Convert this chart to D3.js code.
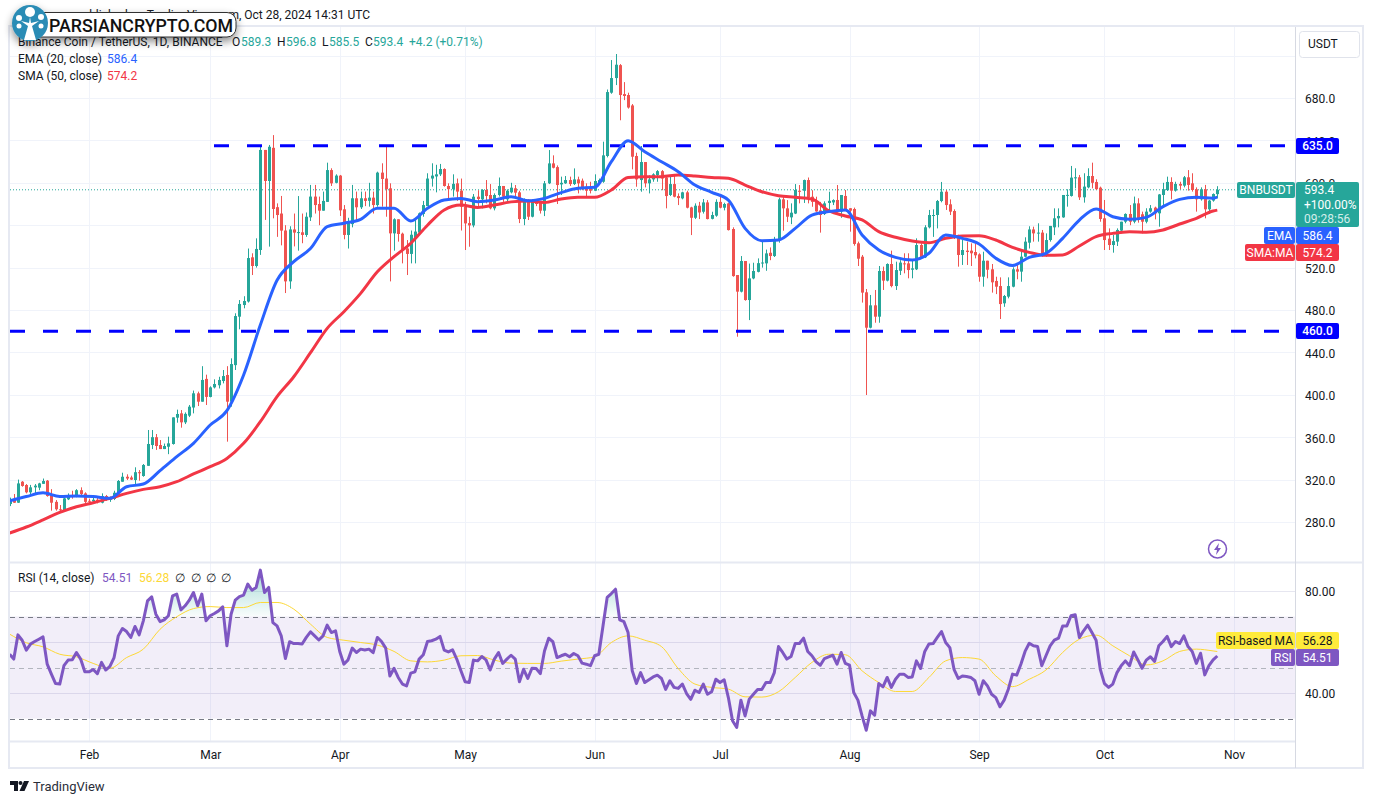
<!DOCTYPE html>
<html>
<head>
<meta charset="utf-8">
<title>BNBUSDT</title>
<script src="https://cdn.jsdelivr.net/npm/d3@7"></script>
<style>
    html, body { margin: 0; padding: 0; background: #fff; }
    svg { display: block; }
    text { font-family: Roboto, sans-serif; font-size: 12px; fill: #131722; }
    .domain { display: none; }
</style>
</head>
<body>
<div id="chart"></div>
<script>
// one entry per day, starting at firstDay. Lines are Jan, Feb, Mar ... Oct
var firstDay = "2024-01-13";

var opens = [
    297,301.3,298.2,318,314.9,308,312.7,312.4,316,319,305.5,299,292,290.7,301.4,305.5,304,310,307,
    300,299.5,301,298.2,304.5,301,301.7,307,318,322.7,322,319.6,327,323.4,333,352.6,360,352.6,348.8,351,353.6,378.4,382.5,374,380.3,388,401.4,393.5,415,
    398,407,409,413,418.7,393.5,428,473.7,484.7,488,529.7,521.5,536.6,631,601.7,633,577,571,555,507,556,553,553.3,550.8,567.4,587,580,573.7,582,612,600,
    606.8,575,550.8,561,585.4,576.9,585.4,583,586,579,609.6,604,594.8,552.3,565.6,552,538,532.9,548,553,570.6,578,604,606,608,613,597,594,599.5,592.6,
    577.4,562,559.8,586.9,584.4,593.2,588.5,575.9,588.5,597,584.4,591,594.8,591,565.8,583,568,583,581,573.7,599.5,618.3,614.8,598.5,599.5,602.6,598.8,603.2,602,596.4,595.4,
    592.5,600,601,625.3,685,698.8,711,683.7,682.8,673,625.3,602.6,619.6,599.5,603.2,607.3,611,605,588.5,598.8,587.5,585.3,591,576.8,567,578.4,572.7,581.5,566,569,
    582,576.5,580.6,556.4,513,497.3,526.2,489.4,509.8,516,524.6,524,534,530.9,547,584.4,575.9,567.4,571,592.5,592.5,602.6,586.9,582.8,574,570.5,581,581.5,583.8,572.8,587.6,
    576,575.3,542.9,530.3,496.7,463.3,484.4,473.7,516.8,507.7,523.4,502.6,517,524,524,518,518.4,541.3,529.7,558,568.7,569.6,582.8,591.6,579.7,573.4,549.2,531.9,536,536,534.7,
    532.5,511.4,526.5,518.4,507.4,502.6,486.3,492.6,502,518.4,516.2,530.3,543.5,556,552.8,553,532.9,546,558,566.5,567.4,588.4,587.6,604.2,605.2,586.3,595.7,606.4,600.8,595.4,
    566.5,547.3,541.3,544.5,554.9,563.3,570.6,563.3,580.6,570.3,563.3,572.8,576.6,571.2,588.5,593.2,600.8,592.6,598.9,597.3,605.2,599.5,593.9,584.4,593.9,575,583.2,589.3
];
var closes = [
    301,298.2,316.4,314,308,312.7,314.3,316.4,318.7,304.5,298.2,292,291.5,302.3,305.5,304,310,306.4,299,
    299.5,301,299.5,304.5,301,303.2,307.6,318.7,322.7,321,320,327,326,333.8,353.6,360,351.7,348.8,351.7,354.2,378.7,381.9,374,382,388.8,401.4,393.5,414,398,
    407,410.2,414,417.7,393.5,429,474.3,485.7,488.5,529,521.5,537.6,631,601.7,634,575.3,569.6,554.9,507,556,553,553.5,550.8,568,587,579,573.7,582.9,612,599.5,606.8,
    574,550.8,562,585.4,576.9,585.4,582.9,586,579,609.6,603.6,594,552.3,565.6,551.7,536.6,532.9,551,554,571.2,579,604,606.8,608,613,597,594,599,591.7,577.4,
    561.7,559.8,586.9,584.7,593.2,587.5,575.9,588.5,597,586.9,592.5,595.4,590.7,565.8,583,568,583.7,580,573.7,599.5,618.3,614.2,597.9,600,602.6,598.8,603.2,599.5,594.8,592.5,592.5,
    601.7,602.6,625.9,685.6,698.8,711.4,682.8,681.9,671,624.6,603.2,619.6,599.5,603.2,608,611,604,587.5,598.8,586.9,585.6,591,576.5,567,578.4,572,581.5,565.8,569.6,582,
    576.5,580,555.4,512,497.3,526.2,489.4,509.8,516.8,524.2,524.8,533.4,530.9,547,584.4,575.9,568,571.8,593.2,591.5,602.6,586.3,582,573,569.6,580.6,583,583.7,572.8,588.5,574.4,
    573.7,542.3,528.4,496.4,463.3,484.4,473.7,516.8,507.7,523.4,502.6,517.7,524.7,523.4,517.7,519.3,541.3,529.7,558,569.6,569.6,582.8,591.6,579,572.8,549.2,531.9,536.6,534.7,533.5,531.6,
    511.4,526.5,518,506.1,502,485.6,493.2,502.6,518.4,516.2,530.3,544.5,556,552.3,553,532.9,546,559.3,566.5,568.7,588.5,588.6,604.9,605.2,586.3,596.4,606.4,600,594,565.9,
    546,541.3,545,555.5,563.3,570.6,563.3,580.6,565,563.3,572.8,576,571.2,589,593.9,600.8,592.6,598.9,597.3,605.2,598,593.2,584.4,593.9,575,583.2,589.4,593.4
];
var highs = [
    303,306.4,320,318.6,315.8,315,315.8,317,321,319.6,311,300.7,296,303,307,309.5,311,312.7,308,
    302,304,304,307,305.5,304,309.5,319.6,326.5,325,323.7,331.6,329,334.7,366.8,366.8,363,357.3,354,360.5,378.7,386,385.6,383.4,390.4,404,403,427,419,
    408,414.6,417,423.4,427,434.4,476.9,489.4,493,538,533.5,547.6,634,631,635.7,645,580.6,587.6,560,559,571,587.5,571,572,598,598,587,591.7,619,613.7,608,
    607.4,579,567,598,591.7,591.7,591.7,600,591.7,610.5,618.4,634.7,599.5,566.5,565.6,553,546,555,566,572,582.9,609,618.4,617,617.8,613.7,599.5,608,604,604,
    582,568,589.4,593,594,602.6,598.8,590,605,597,593.8,600,597.9,592.5,585.3,584.4,584.4,584,581.8,601.7,630.9,625.9,616.4,605.8,606.4,605.8,613.6,605.8,604,599.5,601,
    608,604,638.8,688,715.8,721.5,712,695,685,674.3,628.4,634.7,619.6,607,609,612,612,605.8,606.4,607,590,591.6,592.5,577.4,580.6,582,584.7,583.7,572.7,584.4,
    588.5,581.2,581.2,558,513,530.9,526.2,523.8,524.6,528.7,545,537,539,549,586,586.9,583.7,580.6,598.8,597.9,603,605,593,586.9,582,582.5,591.6,584.4,597.9,588.5,593.2,
    576,576.6,544.5,531.9,499.8,494.2,498.9,521.5,520.9,524,536,525.6,527,533.5,533.5,527.2,547.6,542.9,560,574.4,575,583.8,600.8,593.2,584.4,575,551,546,544.5,542.9,542.9,
    533.5,535,526.5,523.4,511.4,510.8,494.2,510.8,520.3,522.5,535,548.6,559,558.6,561.8,555.5,552.3,559.3,575.9,575.9,588.5,593.9,615.9,613.7,607.4,609,613.7,619,603.3,596.4,
    583.8,557,550.8,557,563.3,571.2,579,587,585.4,572.8,576,579,577.5,589.4,600,605.8,605.2,601,601,606.4,612,609,595.7,595.7,598,583.8,590,596.8
];
var lows = [
    295,298,298,313.3,307,305.5,305.5,310,316,303.9,290.7,290.7,288.8,290,300.7,302,303.3,304,297.6,
    297,298,297.6,297.6,300,299,300.7,306.4,318,319.6,319.6,315.5,319,322.7,333,348.8,348,348.8,348.8,344,353,373.7,369,372.4,379,382.5,389.4,393.5,390.4,
    397.6,406,406,410.8,355.8,388.8,423.4,461.8,481.6,487,513,520,532,565,539.8,566.5,549,541,496,500,540,536,543,549,564,571,560,573.7,582,597,599.5,
    568.7,546.7,538,558,565,575.3,578,577.5,571,577.5,577.5,568,507,536,544.5,524,513,524,524,551,568,578,596.4,591,606.4,596.4,584.4,587,583,555,
    536.6,539.7,558,577.4,575.9,580.6,575,574,587,582,582,590,586.9,562,560,564.9,567.4,578,571,568.6,598.8,613.6,580,588.5,599,597,597.9,590,593,586.9,590,
    592.2,599,600,624,684,692.2,659,678,670,612.7,596.3,591.6,595.7,590,601,601,593,575.9,587.5,586.3,579,584.4,575.9,550.7,565.8,565.8,571,565.5,565.5,568,
    575.9,574,555,511.4,454.8,496.6,488.8,470.5,509,515.5,520,517,527,530,543.5,554.8,563,561,570.5,580.6,581,580.6,577.4,572.7,553,569.6,572.7,579,572,567,573.7,
    553.9,540.7,521.5,487,399.8,462.7,468,468,498.9,507,501.4,498.9,513,514.6,509.9,509.9,517.7,529,529,557,549,557,581.6,574.4,569.6,547,520.9,522.5,522.5,521.5,528.7,
    506.7,502,509.9,496.4,495,471.5,483,491,501.4,509,506.7,529.7,538,544.5,544.5,530.3,530.3,544.5,550.7,558,567,577.5,587,594.8,583.8,581.3,594.8,594.8,593.2,563.3,
    536.6,536.6,534.1,540.4,553,561.8,560,561.8,562.4,552.3,561.8,571.8,565.5,558.6,578,592.3,584.4,591.7,593.9,595.7,592.6,591.7,572.8,583.2,566.5,570.6,582.2,585.5
];

// moving averages, read every 4th day (see maDays)
var emaValues = [
    300,304,307.6,304,304.5,304,302.3,313.3,315.8,328.4,341.6,354.2,371.5,385,418.7,465.8,508,525.6,538,558.6,561.8,565.6,576,576,564,576,583.8,
    585.3,582.2,583.7,586.9,583,585.3,590.7,594.8,595.7,619.9,639.7,629.3,619.9,610.5,597.9,591,583.7,557,545.4,546,557,569.6,572.8,
    574.4,550.8,536.6,529.7,527.2,533.5,550.8,547.6,542.3,528.8,522,529.7,533.5,547.6,564.9,575.3,568,565.6,567.4,577.5,584.4,586.3,585.4,586.4
];
var smaValues = [
    269.6,275.3,282,289,294.4,298.2,302.3,307,310.8,313.3,318,325.3,332.2,340,354.2,374.6,398.2,417,439.7,462.7,478.4,495.7,516,530.3,543,560,574.4,
    579,576.8,579,582,582.8,581.5,584.7,586.3,586.3,593.2,605,605.8,605.8,607.3,606.4,605,604.2,597.9,591.6,587.8,586.3,584.7,573.7,
    568.7,565,553.9,548.6,545.1,543.5,547.6,549.8,550.1,546,539.1,534.4,531.6,531.9,540.4,549.2,552.3,553.9,553.3,555.5,561.1,566.5,573.4,574.2
];

var rsiValues = [
    55.2,53.3,62.8,60.7,56.8,59.2,60.2,61.1,62,51.3,47.4,43.7,43.5,50.7,52.9,53,55.9,53.3,48.3,
    48.3,49.2,47.6,52,49,50.4,53.9,62.4,65.3,64.1,61.8,66.1,62.8,68.3,76.1,77.7,70.9,68,68.7,70.3,78.1,78.8,72.6,74.2,76.4,79.4,74.2,78.8,68.3,
    70.3,71.2,72.2,73.8,58.5,70.9,76.4,77.8,78.4,82.7,80.3,81.4,88.2,79.4,81.4,67.6,66.3,62.4,53.5,60.1,59.4,59.4,59.2,61.8,64,62.4,60.8,62.4,66.6,63.7,64.4,
    56.3,51.3,53,57.6,55.9,57.2,56.9,57.2,55.8,61.8,60.2,57.6,46.7,49.7,46.1,43.5,42.8,47.8,48.3,53.3,55,60.2,60.5,61.1,62.2,56.8,56.1,56.9,53.3,48.7,
    44.4,44.1,52.9,52.6,54.3,53,49,53.3,55.9,51.6,53.3,54.8,53.3,44.4,49.3,45.7,49.7,49.6,47.6,56.5,61.5,60.1,53.9,54.6,55.2,54.2,55.5,54.6,51.7,51.3,50.7,
    54.6,55.2,66.3,77.5,79,80.7,68.7,68,63.7,48.7,43.7,48,44.1,45.2,46.3,47,45.7,41.4,44.8,42.2,41.8,43.5,39.8,37.5,41.1,40.2,43.5,39.5,40.5,45.4,
    44.1,45.2,38.2,29.1,26.5,37.2,31,37.6,39.5,41.4,41.4,44.1,44.1,48,58.2,55.9,53.3,54.3,59.4,59.4,61.5,56.3,54.6,52.2,50.9,53.5,54.2,54.8,51.3,55.9,51.6,
    50.9,40.2,37.2,31,25.4,33,31.3,43.7,42.4,46.1,42.2,45.4,47.4,47.4,46.1,46.3,52.6,49.6,56.3,59.2,59.4,61.8,64.1,59.8,57.8,49.3,45.7,46.7,46.5,46.1,44.8,
    39.5,44.8,42.8,39.5,38.2,34.6,37.2,41.5,47.4,47,51.3,56.3,59.5,58.5,58.2,50.7,54.6,58.5,60.7,61.5,66.3,66.3,70.3,70.7,61.8,64.4,66.6,63.7,60.7,49.3,
    43.7,42.2,43.5,48,50.7,52.6,50.7,56.1,53,49.7,52.9,54.2,52.4,58.5,60.2,62.2,58.2,60.2,59.4,62.4,58.2,56.3,51.6,55.6,47.1,50.7,53,54.51
];
var rsiMaValues = [
    63.1,59.7,58.1,55.2,54.2,51.6,49.7,53.9,57.2,65,69.9,73.1,73.9,73.5,73.5,
    75.5,75.5,72.9,67,61.8,60.7,59.8,58.8,56.3,52.6,52.2,52.9,54.6,54.7,
    52.9,51.7,51.6,51.6,52.5,53.3,54.2,59.8,62.4,60.7,58.2,49.6,43.5,42.2,41.5,38.5,38.4,40.5,46.1,52,55.2,55,48.7,44.1,40.6,40.6,46.1,52.6,53.9,
    53.3,46.7,42.5,45.4,49,55.9,61.1,62.7,58.5,54.6,51,52.6,56.3,57.2,56.5,56.28
];

var priceTicks = [680, 640, 600, 520, 480, 440, 400, 360, 320, 280];
var priceGrid = [720, 680, 640, 600, 560, 520, 480, 440, 400, 360, 320, 280];
var rsiTicks = [80, 40];
var rsiGrid = [80, 60, 40];
var monthTicks = ["2024-02-01", "2024-03-01", "2024-04-01", "2024-05-01", "2024-06-01", "2024-07-01",
    "2024-08-01", "2024-09-01", "2024-10-01", "2024-11-01"];
var resistance = 635;
var support = 460;

var WIDTH = 1373, HEIGHT = 804;
var paneLeft = 10, paneRight = 1295, frameRight = 1363;
var mainTop = 27, mainBottom = 562, rsiBottom = 741, frameBottom = 768;

var UP = "#26a69a", DOWN = "#ef5350", BLUE = "#2962ff", RED = "#f23645",
    PURPLE = "#7e57c2", YELLOW = "#fdd835", LEVEL = "#0000ff", GRID = "#f0f3fa", BORDER = "#e6e9f2";

var dayOne = d3.utcParse("%Y-%m-%d")(firstDay);
var parseDay = d3.utcParse("%Y-%m-%d");
var months = monthTicks.map(parseDay);
var dayOf = (i) => d3.utcDay.offset(dayOne, i);

var x = d3.scaleUtc().domain([months[0], months[months.length - 1]]).range([89, 1234]);
var y = d3.scaleLinear().domain([280, 680]).range([522, 98]);
var yRsi = d3.scaleLinear().domain([80, 40]).range([591, 693]);

var candles = closes.map((c, i) => ({day: dayOf(i), o: opens[i], h: highs[i], l: lows[i], c: c}));
var maDays = d3.range(0, closes.length - 1, 4).concat([closes.length - 1]);

var svg = d3.select("#chart").append("svg").attr("width", WIDTH).attr("height", HEIGHT);
var defs = svg.append("defs");

defs.append("clipPath").attr("id", "clipMain").append("rect")
    .attr("x", paneLeft).attr("y", mainTop).attr("width", paneRight - paneLeft).attr("height", mainBottom - mainTop);
defs.append("clipPath").attr("id", "clipRsi").append("rect")
    .attr("x", paneLeft).attr("y", mainBottom).attr("width", paneRight - paneLeft).attr("height", rsiBottom - mainBottom);
defs.append("clipPath").attr("id", "clipOverbought").append("rect")
    .attr("x", paneLeft).attr("y", mainBottom).attr("width", paneRight - paneLeft).attr("height", yRsi(70) - mainBottom);

var grad = defs.append("linearGradient").attr("id", "obFill").attr("gradientUnits", "userSpaceOnUse")
    .attr("x1", 0).attr("x2", 0).attr("y1", yRsi(90)).attr("y2", yRsi(70));
grad.append("stop").attr("offset", 0).attr("stop-color", UP).attr("stop-opacity", 0.45);
grad.append("stop").attr("offset", 1).attr("stop-color", UP).attr("stop-opacity", 0.03);

var shadow = defs.append("filter").attr("id", "logoShadow").attr("x", "-20%").attr("y", "-60%").attr("width", "140%").attr("height", "240%");
shadow.append("feDropShadow").attr("dx", 0).attr("dy", 4).attr("stdDeviation", 4).attr("flood-color", "#000").attr("flood-opacity", 0.45);

// grid
var grid = svg.append("g");
grid.selectAll(".gx").data(months).enter().append("line")
    .attr("x1", (d) => Math.round(x(d)) + 0.5).attr("x2", (d) => Math.round(x(d)) + 0.5)
    .attr("y1", mainTop).attr("y2", rsiBottom)
    .attr("stroke", GRID);
grid.selectAll(".gy").data(priceGrid).enter().append("line")
    .attr("x1", paneLeft).attr("x2", paneRight)
    .attr("y1", (d) => Math.round(y(d)) + 0.5).attr("y2", (d) => Math.round(y(d)) + 0.5)
    .attr("stroke", GRID);

// rsi band goes under its grid lines
svg.append("rect")
    .attr("x", paneLeft).attr("width", paneRight - paneLeft)
    .attr("y", yRsi(70)).attr("height", yRsi(30) - yRsi(70))
    .attr("fill", PURPLE).attr("fill-opacity", 0.1);
grid.selectAll(".gr").data(rsiGrid).enter().append("line")
    .attr("x1", paneLeft).attr("x2", paneRight)
    .attr("y1", (d) => Math.round(yRsi(d)) + 0.5).attr("y2", (d) => Math.round(yRsi(d)) + 0.5)
    .attr("stroke", "#e6e6f0");

// frame
var frame = svg.append("g").attr("fill", "none").attr("stroke", BORDER);
frame.append("rect").attr("x", paneLeft - 1).attr("y", mainTop - 1)
    .attr("width", frameRight - paneLeft + 1).attr("height", frameBottom - mainTop + 1).attr("stroke-width", 2);
frame.append("line").attr("x1", paneLeft).attr("x2", frameRight).attr("y1", mainBottom + 0.5).attr("y2", mainBottom + 0.5).attr("stroke-width", 2);
frame.append("line").attr("x1", paneLeft).attr("x2", paneRight).attr("y1", rsiBottom + 0.5).attr("y2", rsiBottom + 0.5).attr("stroke-width", 2);
frame.append("line").attr("x1", paneRight + 0.5).attr("x2", paneRight + 0.5).attr("y1", mainTop).attr("y2", frameBottom).attr("stroke", "#d6d9e2");

// main pane
var main = svg.append("g").attr("clip-path", "url(#clipMain)");

main.append("line")
    .attr("x1", paneLeft).attr("x2", paneRight)
    .attr("y1", y(closes[closes.length - 1])).attr("y2", y(closes[closes.length - 1]))
    .attr("stroke", UP).attr("stroke-dasharray", "1 2");

var candle = main.selectAll(".candle").data(candles).enter().append("g")
    .attr("fill", (d) => d.c >= d.o ? UP : DOWN);
candle.append("rect")
    .attr("x", (d) => Math.round(x(d.day)))
    .attr("width", 1)
    .attr("y", (d) => y(d.h))
    .attr("height", (d) => y(d.l) - y(d.h));
candle.append("rect")
    .attr("x", (d) => Math.round(x(d.day)) - 1)
    .attr("width", 3)
    .attr("y", (d) => y(Math.max(d.o, d.c)))
    .attr("height", (d) => Math.max(1, Math.abs(y(d.o) - y(d.c))));

main.append("line")
    .attr("x1", 214).attr("x2", paneRight)
    .attr("y1", y(resistance)).attr("y2", y(resistance))
    .attr("stroke", LEVEL).attr("stroke-width", 3).attr("stroke-dasharray", "15 18");
main.append("line")
    .attr("x1", paneLeft).attr("x2", paneRight)
    .attr("y1", y(support)).attr("y2", y(support))
    .attr("stroke", LEVEL).attr("stroke-width", 3).attr("stroke-dasharray", "15 18");

var maLine = d3.line()
    .x((d) => x(dayOf(d.i)))
    .y((d) => y(d.v))
    .curve(d3.curveMonotoneX);
main.append("path")
    .datum(maDays.map((d, i) => ({i: d, v: smaValues[i]})))
    .attr("d", maLine)
    .attr("fill", "none").attr("stroke", RED).attr("stroke-width", 3).attr("stroke-linejoin", "round");
main.append("path")
    .datum(maDays.map((d, i) => ({i: d, v: emaValues[i]})))
    .attr("d", maLine)
    .attr("fill", "none").attr("stroke", BLUE).attr("stroke-width", 3).attr("stroke-linejoin", "round");

// rsi pane
var rsiPane = svg.append("g").attr("clip-path", "url(#clipRsi)");
var rsiPoints = rsiValues.map((v, i) => ({i: i, v: v}));

rsiPane.append("path")
    .datum(rsiPoints)
    .attr("clip-path", "url(#clipOverbought)")
    .attr("d", d3.area()
        .x((d) => x(dayOf(d.i)))
        .y0(yRsi(70))
        .y1((d) => yRsi(d.v)))
    .attr("fill", "url(#obFill)");

[[70, "#787b86", "5 4"], [50, "#b2b5be", "5 4"], [30, "#787b86", "5 4"]].forEach(function(lv) {
    rsiPane.append("line")
        .attr("x1", paneLeft).attr("x2", paneRight)
        .attr("y1", Math.round(yRsi(lv[0])) + 0.5).attr("y2", Math.round(yRsi(lv[0])) + 0.5)
        .attr("stroke", lv[1]).attr("stroke-dasharray", lv[2]);
});

rsiPane.append("path")
    .datum(maDays.map((d, i) => ({i: d, v: rsiMaValues[i]})))
    .attr("d", d3.line().x((d) => x(dayOf(d.i))).y((d) => yRsi(d.v)).curve(d3.curveMonotoneX))
    .attr("fill", "none").attr("stroke", YELLOW).attr("stroke-width", 1);
rsiPane.append("path")
    .datum(rsiPoints)
    .attr("d", d3.line().x((d) => x(dayOf(d.i))).y((d) => yRsi(d.v)))
    .attr("fill", "none").attr("stroke", PURPLE).attr("stroke-width", 3).attr("stroke-linejoin", "round");

// axes
var priceAxis = d3.axisRight(y).tickValues(priceTicks).tickFormat(d3.format(".1f")).tickSize(0).tickPadding(10);
svg.append("g").attr("transform", "translate(" + paneRight + ",1)").call(priceAxis);
var rsiAxis = d3.axisRight(yRsi).tickValues(rsiTicks).tickFormat(d3.format(".2f")).tickSize(0).tickPadding(10);
svg.append("g").attr("transform", "translate(" + paneRight + ",1)").call(rsiAxis);
var timeAxis = d3.axisBottom(x).tickValues(months).tickFormat(d3.utcFormat("%b")).tickSize(0).tickPadding(9);
svg.append("g").attr("transform", "translate(0," + rsiBottom + ")").call(timeAxis);
svg.selectAll(".tick text").attr("font-size", 12).attr("fill", "#131722");

// price labels on the axis
function label(x0, y0, w, h, fill, text, color, weight) {
    svg.append("rect").attr("x", x0).attr("y", y0).attr("width", w).attr("height", h).attr("rx", 2).attr("fill", fill);
    svg.append("text").attr("x", x0 + w / 2).attr("y", y0 + h / 2 + 4).attr("text-anchor", "middle")
        .style("fill", color).style("font-weight", weight || 400).text(text);
}
label(1296, Math.round(y(resistance)) - 8, 43, 16, LEVEL, resistance.toFixed(1), "#fff", 500);
label(1296, Math.round(y(support)) - 8, 43, 16, LEVEL, support.toFixed(1), "#fff", 500);

label(1237, 182, 58, 16, UP, "BNBUSDT", "#fff");
svg.append("rect").attr("x", 1296).attr("y", 182).attr("width", 63).attr("height", 45).attr("rx", 2).attr("fill", UP);
[["593.4", 194, "#fff"], ["+100.00%", 209, "#fff"], ["09:28:56", 223, "#d4eeeb"]].forEach(function(t) {
    svg.append("text").attr("x", 1304).attr("y", t[1]).style("fill", t[2]).text(t[0]);
});
label(1264, 227, 31, 17, BLUE, "EMA", "#fff");
label(1296, 227, 43, 17, BLUE, emaValues[emaValues.length - 1].toFixed(1), "#fff");
label(1245, 244, 50, 17, RED, "SMA:MA", "#fff");
label(1296, 244, 43, 17, RED, smaValues[smaValues.length - 1].toFixed(1), "#fff");
label(1216, 632, 79, 17, "#ffeb3b", "RSI-based MA", "#131722");
label(1296, 632, 43, 17, "#ffeb3b", rsiMaValues[rsiMaValues.length - 1].toFixed(2), "#131722");
label(1271, 649, 24, 17, PURPLE, "RSI", "#fff");
label(1296, 649, 43, 17, PURPLE, rsiValues[rsiValues.length - 1].toFixed(2), "#fff");

// currency button
svg.append("rect").attr("x", 1299.5).attr("y", 31.5).attr("width", 60).attr("height", 26).attr("rx", 3)
    .attr("fill", "#fff").attr("stroke", "#e0e3eb");
svg.append("text").attr("x", 1308).attr("y", 48).text("USDT");

// legends
function legendRow(yy, parts) {
    parts.forEach(function(p) {
        svg.append("text").attr("x", p[0]).attr("y", yy).style("fill", p[2] || "#131722").text(p[1]);
    });
}
svg.append("text").attr("x", 370).attr("y", 19).attr("text-anchor", "end")
    .text("published on TradingView.com, Oct 28, 2024 14:31 UTC");
legendRow(46, [[18, "Binance Coin / TetherUS, 1D, BINANCE"],
    [232, "O"], [241, "589.3", UP], [277, "H"], [286, "596.8", UP], [322, "L"], [329, "585.5", UP],
    [365, "C"], [373, "593.4", UP], [409, "+4.2 (+0.71%)", UP]]);
legendRow(63, [[18, "EMA (20, close)"], [107, "586.4", BLUE]]);
legendRow(80, [[18, "SMA (50, close)"], [107, "574.2", RED]]);
legendRow(582, [[18, "RSI (14, close)"], [102, "54.51", PURPLE], [139, "56.28", YELLOW],
    [175, "∅"], [191, "∅"], [206, "∅"], [221, "∅"]]);

// lightning badge
var badge = svg.append("g").attr("transform", "translate(1217.5,549)");
badge.append("circle").attr("r", 9).attr("fill", "#fff").attr("stroke", PURPLE).attr("stroke-width", 1.5);
badge.append("path").attr("d", "M1.5,-6 L-3.5,1 L-0.5,1 L-1.5,6 L3.5,-1 L0.5,-1 Z").attr("fill", PURPLE);

// tradingview mark
var tv = svg.append("g").attr("transform", "translate(10,781)").attr("fill", "#131722");
tv.append("path").attr("d", "M0,0 H8 V10 H4 V4 H0 Z");
tv.append("circle").attr("cx", 10.5).attr("cy", 2).attr("r", 2);
tv.append("path").attr("d", "M14,0 H19 L14.5,10 H9.5 Z");
svg.append("text").attr("x", 33).attr("y", 791).style("font-size", "13px").style("fill", "#2a2e39").text("TradingView");

// watermark logo
var logo = svg.append("g").attr("filter", "url(#logoShadow)");
logo.append("rect").attr("x", 30).attr("y", 12.5).attr("width", 206).attr("height", 24.5).attr("rx", 9)
    .attr("fill", "#fff").attr("stroke", "#333");
logo.append("circle").attr("cx", 30).attr("cy", 23).attr("r", 18).attr("fill", "#2b8cb5");
var tree = svg.append("g").attr("transform", "translate(30,23)").attr("fill", "#fff");
tree.append("path").attr("d", "M-6,17 L-2,3 L-9,-2 L-1,0 L0,-6 L1,0 L9,-2 L2,3 L6,17 Z");
[[0, -11, 5], [-11, -5, 3], [11, -6, 3], [-11, 3, 2.5], [11, 3, 2.5]].forEach(function(c) {
    tree.append("circle").attr("cx", c[0]).attr("cy", c[1]).attr("r", c[2]);
});
svg.append("text").attr("x", 49).attr("y", 32).attr("textLength", 184).attr("lengthAdjust", "spacingAndGlyphs")
    .style("font-family", "Roboto, sans-serif").style("font-size", "19px").style("font-weight", 500).style("fill", "#111")
    .text("PARSIANCRYPTO.COM");
</script>
</body>
</html>
